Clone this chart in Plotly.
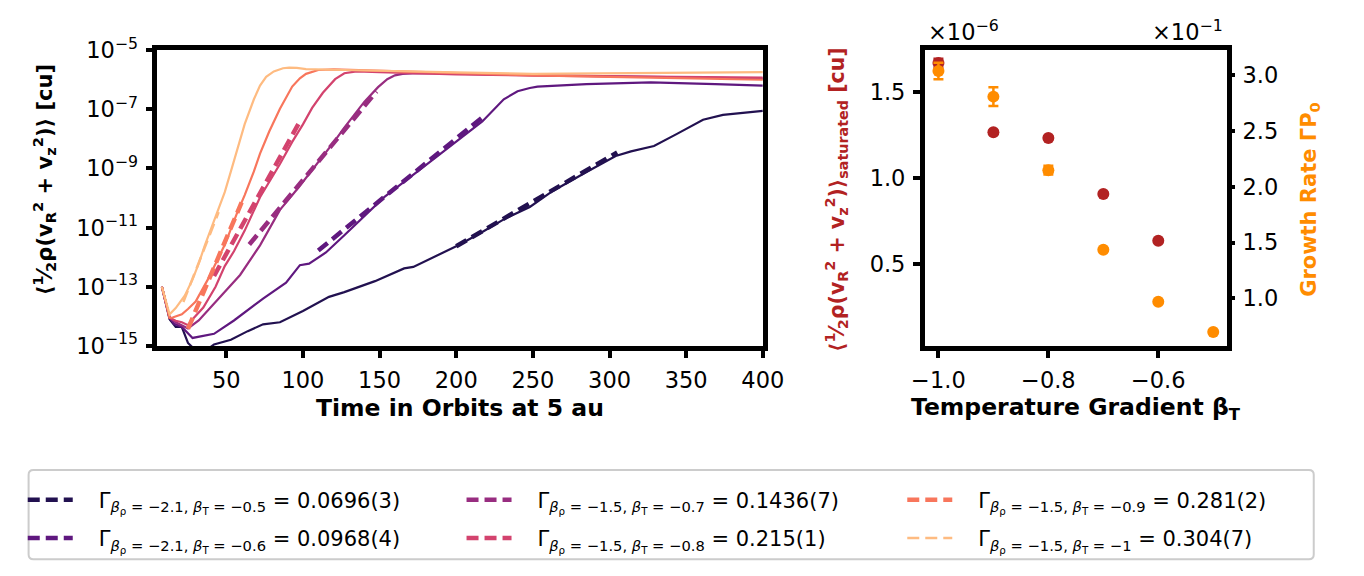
import numpy as np
import plotly.graph_objects as go

# ---------------- data ----------------
# time (orbits at 5 au) and log10 of the mean meridional kinetic energy, one run per beta_T
T_A = [8, 13, 17, 21, 25, 33, 42, 53, 64, 74, 85, 100, 117, 127, 147, 166, 172, 185, 202, 217, 231, 248, 263, 285, 304, 314, 329, 344, 361, 374, 387, 400]
LOG_E_A = [-13.0, -14.1, -14.36, -14.36, -14.9, -15.3, -14.95, -14.79, -14.5, -14.27, -14.2, -13.82, -13.34, -13.18, -12.81, -12.38, -12.33, -12.0, -11.58, -11.15, -10.72, -10.30, -9.76, -9.12, -8.58, -8.42, -8.24, -7.83, -7.35, -7.19, -7.12, -7.05]

T_B = [8, 13, 16, 21, 28, 34, 42, 55, 74, 89, 98, 104, 115, 127, 153, 185, 217, 231, 240, 248, 253, 285, 327, 369, 400]
LOG_E_B = [-13.0, -14.05, -14.25, -14.36, -14.73, -14.66, -14.59, -14.14, -13.40, -12.86, -12.27, -12.22, -11.84, -11.26, -9.97, -8.69, -7.41, -6.66, -6.39, -6.28, -6.23, -6.15, -6.09, -6.15, -6.20]

T_C = [8, 13, 17, 21, 25, 32, 47, 59, 72, 85, 97, 110, 121, 127, 140, 149, 155, 160, 165, 175, 200, 250, 300, 350, 400]
LOG_E_C = [-13.0, -14.05, -14.2, -14.3, -14.41, -14.14, -13.3, -12.6, -11.6, -10.4, -9.65, -8.8, -8.05, -7.62, -6.75, -6.25, -5.98, -5.85, -5.80, -5.78, -5.80, -5.85, -5.90, -5.93, -5.96]

T_D = [8, 13, 17, 21, 25, 28, 35, 43, 49, 55, 62, 72, 85, 93, 100, 106, 113, 121, 127, 135, 150, 200, 250, 300, 350, 400]
LOG_E_D = [-13.0, -14.05, -14.15, -14.2, -14.3, -14.1, -13.7, -13.0, -12.3, -11.8, -11.1, -9.97, -8.85, -8.1, -7.51, -6.95, -6.44, -5.98, -5.78, -5.72, -5.74, -5.82, -5.86, -5.88, -5.92, -5.93]

T_E = [8, 13, 15, 21, 25, 30, 38, 44, 49, 57, 62, 68, 72, 78, 85, 93, 98, 102, 110, 120, 150, 200, 250, 300, 350, 400]
LOG_E_E = [-13.0, -14.05, -14.04, -13.93, -13.75, -13.5, -12.75, -12.1, -11.58, -10.51, -9.9, -9.1, -8.5, -7.75, -6.98, -6.23, -5.95, -5.80, -5.67, -5.65, -5.70, -5.78, -5.85, -5.90, -5.95, -6.00]

T_F = [8, 13, 17, 23, 28, 32, 36, 40, 44, 49, 53, 57, 62, 68, 72, 76, 81, 87, 91, 96, 102, 127, 150, 200, 250, 300, 350, 400]
LOG_E_F = [-13.0, -13.93, -13.72, -13.29, -12.75, -12.22, -11.6, -11.04, -10.5, -9.8, -9.1, -8.37, -7.5, -6.66, -6.2, -5.9, -5.72, -5.61, -5.59, -5.60, -5.64, -5.67, -5.70, -5.75, -5.80, -5.78, -5.75, -5.74]

RUN_T = [T_A, T_B, T_C, T_D, T_E, T_F]
RUN_LOG_E = [LOG_E_A, LOG_E_B, LOG_E_C, LOG_E_D, LOG_E_E, LOG_E_F]

BETA_RHO = [-2.1, -2.1, -1.5, -1.5, -1.5, -1.5]
BETA_T = [-0.5, -0.6, -0.7, -0.8, -0.9, -1]
GAMMA = [0.0696, 0.0968, 0.1436, 0.215, 0.281, 0.304]
GAMMA_ERR_DIGIT = ["3", "4", "7", "1", "2", "7"]

# exponential-fit windows (orbits) and a point the fit passes through
FIT_START = [200, 110, 65, 42, 25, 22]
FIT_END = [305, 217, 148, 97, 60, 45]
FIT_REF_T = [201.7, 152.9, 70.0, 48.8, 25.5, 31.8]
FIT_REF_LOG_E = [-11.58, -9.97, -11.26, -12.0, -14.36, -12.22]

COLORS = ["#221150", "#5f187f", "#982d80", "#d3436e", "#f8765c", "#febb81"]

# right panel: saturated energy (x1e-6) and growth rate (x1e-1) versus beta_T
SAT_BETA_T = [-1.0, -0.9, -0.8, -0.7, -0.6]
SAT_E = [1.668, 1.267, 1.234, 0.909, 0.637]
SAT_E_ERR = [0.025, 0.008, 0.008, 0.008, 0.008]

RATE_BETA_T = [-1.0, -0.9, -0.8, -0.7, -0.6, -0.5]
RATE = [3.04, 2.81, 2.15, 1.436, 0.968, 0.696]
RATE_ERR = [0.075, 0.085, 0.04, 0.01, 0.01, 0.01]

# ---------------- layout helpers ----------------
W, H = 1364, 576
FONT = "DejaVu Sans"
RED = "#b22222"
ORANGE = "#ff8c00"
TICK_SIZE = 22.5


def fx(p):
    return p / W


def fy(p):
    return 1 - p / H


def fmt_num(v):
    return f"{v:g}".replace("-", "−")


fig = go.Figure()

for i in range(6):
    t = np.array(RUN_T[i], dtype=float)
    e = 10.0 ** np.array(RUN_LOG_E[i])
    fig.add_trace(go.Scatter(
        x=t, y=e, mode="lines", line=dict(color=COLORS[i], width=2.2),
        showlegend=False, xaxis="x", yaxis="y", hoverinfo="skip"))

# three legend columns, two entries each
legend_of = ["legend", "legend", "legend2", "legend2", "legend3", "legend3"]
for i in range(6):
    tf = np.array([FIT_START[i], FIT_END[i]], dtype=float)
    ef = 10.0 ** (FIT_REF_LOG_E[i] + GAMMA[i] * (tf - FIT_REF_T[i]) / np.log(10))
    name = ("\u2003"
            f"Γ<sub><i>β</i><sub>ρ</sub> = {fmt_num(BETA_RHO[i])}, <i>β</i><sub>T</sub> = {fmt_num(BETA_T[i])}</sub>"
            f" = {GAMMA[i]:g}({GAMMA_ERR_DIGIT[i]})")
    fig.add_trace(go.Scatter(
        x=tf, y=ef, mode="lines",
        line=dict(color=COLORS[i], width=2.5 if i == 5 else 4.5, dash="12px,6px"),
        name=name, legend=legend_of[i], legendgroup=f"g{i}",
        xaxis="x", yaxis="y", hoverinfo="skip"))

# right panel
fig.add_trace(go.Scatter(
    x=SAT_BETA_T, y=SAT_E, mode="markers",
    marker=dict(color=RED, size=12),
    error_y=dict(type="data", array=SAT_E_ERR, color=RED, thickness=2.5, width=5),
    showlegend=False, xaxis="x2", yaxis="y2"))
fig.add_trace(go.Scatter(
    x=RATE_BETA_T, y=RATE, mode="markers",
    marker=dict(color=ORANGE, size=12),
    error_y=dict(type="data", array=RATE_ERR, color=ORANGE, thickness=2.5, width=5),
    showlegend=False, xaxis="x2", yaxis="y3"))

tick_style = dict(
    ticks="outside", ticklen=7, tickwidth=4, tickcolor="black", ticklabelstandoff=3,
    showgrid=False, zeroline=False,
    tickfont=dict(family=FONT, size=TICK_SIZE, color="black"),
)
axis_common = dict(showline=True, linecolor="black", linewidth=4.5, mirror=True, **tick_style)

log_ticks = [-15, -13, -11, -9, -7, -5]


def legend_box(x_px):
    return dict(
        orientation="v", x=fx(x_px), y=fy(488), xanchor="left", yanchor="top",
        itemwidth=45, bgcolor="rgba(0,0,0,0)", borderwidth=0,
        font=dict(family=FONT, size=21, color="black"),
        tracegroupgap=8,
    )


fig.update_layout(
    width=W, height=H,
    margin=dict(l=0, r=0, t=0, b=0),
    paper_bgcolor="white", plot_bgcolor="white",
    font=dict(family=FONT, size=20, color="black"),
    xaxis=dict(domain=[fx(148), fx(769)], range=[5, 400], tickvals=[50, 100, 150, 200, 250, 300, 350, 400],
               anchor="y", **axis_common),
    yaxis=dict(domain=[fy(347), fy(35)], type="log", range=[-15, -5],
               tickvals=[10.0 ** k for k in log_ticks],
               ticktext=[f"10<sup>−{-k}</sup>" for k in log_ticks],
               anchor="x", **axis_common),
    xaxis2=dict(domain=[fx(935), fx(1245)], range=[-1.025, -0.475], tickvals=[-1.0, -0.8, -0.6],
                tickformat=".1f", anchor="y2", **axis_common),
    yaxis2=dict(domain=[fy(347), fy(35)], range=[0.027, 1.743], tickvals=[0.5, 1.0, 1.5],
                tickformat=".1f", anchor="x2", **axis_common),
    yaxis3=dict(domain=[fy(347), fy(35)], range=[0.572, 3.227], tickvals=[1.0, 1.5, 2.0, 2.5, 3.0],
                tickformat=".1f", anchor="x2", overlaying="y2", side="right",
                showline=False, **tick_style),
    legend=legend_box(10),
    legend2=legend_box(460),
    legend3=legend_box(912),
)

# rounded frame around the legend columns
x0, x1, y0, y1 = fx(16), fx(1334), fy(478), fy(572)
rx, ry = 5 / W, 5 / H
frame_path = (f"M {x0 + rx},{y0} L {x1 - rx},{y0} Q {x1},{y0} {x1},{y0 - ry} "
              f"L {x1},{y1 + ry} Q {x1},{y1} {x1 - rx},{y1} L {x0 + rx},{y1} "
              f"Q {x0},{y1} {x0},{y1 + ry} L {x0},{y0 - ry} Q {x0},{y0} {x0 + rx},{y0} Z")
fig.add_shape(type="path", path=frame_path, xref="paper", yref="paper",
              line=dict(color="#cccccc", width=2), fillcolor="rgba(255,255,255,0.8)", layer="below")

label_y = "⟨<sup>1</sup>⁄<sub>2</sub>ρ(v<sub>R</sub><sup>2</sup> + v<sub>z</sub><sup>2</sup>)⟩"

annotations = [
    dict(x=fx(458), y=fy(413), text="<b>Time in Orbits at 5 au</b>", font=dict(size=23.5)),
    dict(x=fx(1090), y=fy(413), text="<b>Temperature Gradient β<sub>T</sub></b>", font=dict(size=23.5)),
    dict(x=fx(32), y=fy(172), text=f"<b>{label_y} [cu]</b>", textangle=-90, font=dict(size=21)),
    dict(x=fx(845), y=fy(192), text=f"<b>{label_y}<sub>saturated</sub> [cu]</b>", textangle=-90,
         font=dict(size=20.5, color=RED)),
    dict(x=fx(1330), y=fy(192), text="<b>Growth Rate ΓP<sub>0</sub></b>", textangle=-90,
         font=dict(size=21, color=ORANGE)),
    dict(x=fx(975), y=fy(14), text="×10<sup>−6</sup>", font=dict(size=22.5)),
    dict(x=fx(1205), y=fy(14), text="×10<sup>−1</sup>", font=dict(size=22.5)),
]
for a in annotations:
    a.update(xref="paper", yref="paper", showarrow=False, xanchor="center", yanchor="middle")
    a["font"] = dict(family=FONT, **a["font"])
fig.update_layout(annotations=annotations)

fig.write_html("out.html")
